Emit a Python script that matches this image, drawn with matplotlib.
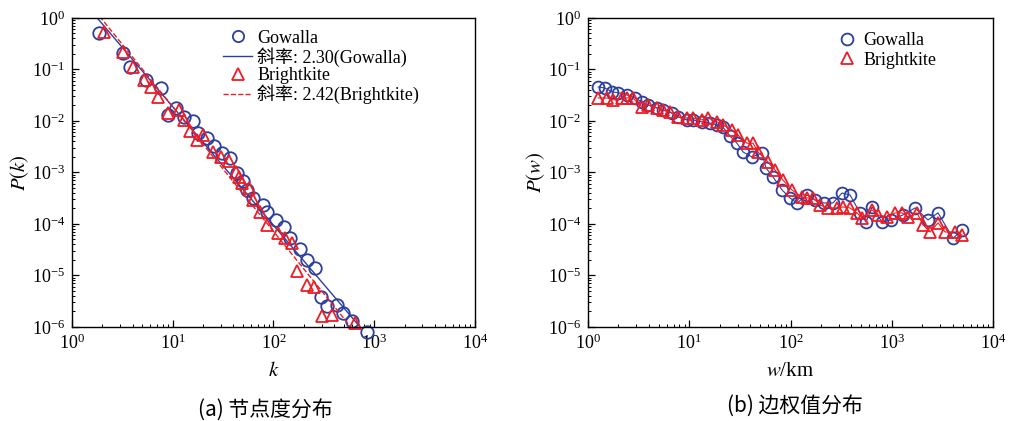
import matplotlib
matplotlib.use("Agg")
import matplotlib.pyplot as plt
from matplotlib.lines import Line2D
import numpy as np

plt.rcParams['font.family'] = ['Liberation Serif', 'Noto Sans CJK SC']
plt.rcParams['mathtext.fontset'] = 'stix'

BLUE = '#2b3f9f'
RED = '#ee1c25'

# (a) degree distribution
k_gow = [1.85, 3.2, 3.8, 5.4, 7.6, 8.9, 10.7, 12.9, 15.8, 18, 22, 25.5, 31, 37,
         43, 50, 55, 63, 78, 87, 105, 126, 147, 185, 217, 260, 293, 340, 430,
         490, 600, 850]
p_gow = [0.51, 0.21, 0.11, 0.063, 0.044, 0.013, 0.018, 0.012, 0.010, 0.0059,
         0.0047, 0.0032, 0.0024, 0.0019, 0.00098, 0.00068, 0.00046, 0.00032,
         0.00023, 0.00017, 1.2e-4, 8.7e-5, 5.4e-5, 3.2e-5, 2.0e-5, 1.4e-5,
         3.8e-6, 2.5e-6, 2.7e-6, 1.9e-6, 1.3e-6, 8e-7]
k_bri = [2.1, 3.2, 4.0, 5.2, 6.1, 7.1, 8.9, 11.5, 12.9, 15, 17.6, 20, 25, 30,
         36, 42, 45, 49, 57, 63, 74, 87, 112, 131, 154, 173, 217, 250, 305,
         384, 650]
p_bri = [0.53, 0.22, 0.11, 0.063, 0.046, 0.029, 0.014, 0.016, 0.0105, 0.0063,
         0.0043, 0.0054, 0.0025, 0.0020, 0.0017, 0.0010, 8.2e-4, 6.3e-4, 5e-4,
         2.9e-4, 1.7e-4, 9.5e-5, 6.7e-5, 5.4e-5, 4.3e-5, 1.2e-5, 6.6e-6, 6.0e-6,
         1.6e-6, 1.7e-6, 1.2e-6]
slope_gow, coef_gow = 2.30, 3.77
slope_bri, coef_bri = 2.42, 4.97

# (b) edge weight distribution
w_gow = [1.26, 1.47, 1.73, 1.98, 2.43, 2.91, 3.41, 3.91, 4.80, 5.51, 6.76, 7.74,
         9.50, 10.9, 13.4, 16.0, 18.8, 21.5, 25.3, 29.6, 34.0, 41.7, 52.3, 57.3,
         67.2, 82.4, 98.9, 116, 146, 175, 214, 263, 323, 387, 486, 557, 639, 802,
         984, 1292, 1698, 2280, 2864, 4030, 4945]
pw_gow = [0.0457, 0.0437, 0.0366, 0.0355, 0.0320, 0.0280, 0.0234, 0.0205,
          0.0179, 0.0164, 0.0143, 0.0120, 0.0105, 0.0105, 0.0096, 0.0091,
          0.0084, 0.0076, 0.0051, 0.0037, 0.0025, 0.0020, 0.0024, 0.00122,
          8.2e-4, 4.6e-4, 3.2e-4, 2.56e-4, 3.66e-4, 2.92e-4, 2.56e-4, 2.56e-4,
          4.0e-4, 3.66e-4, 1.64e-4, 1.09e-4, 2.14e-4, 1.09e-4, 1.2e-4, 1.5e-4,
          2.05e-4, 1.2e-4, 1.64e-4, 5.3e-5, 7.6e-5]
w_bri = [1.26, 1.54, 1.77, 2.17, 2.43, 2.78, 3.41, 3.91, 4.80, 5.51, 6.45, 7.74,
         9.50, 10.9, 13.4, 15.3, 18.8, 21.5, 26.4, 30.3, 37.2, 42.7, 47.8, 60.0,
         70.3, 84.3, 103, 130, 146, 167, 196, 235, 288, 330, 387, 454, 508, 639,
         732, 898, 1077, 1262, 1446, 1775, 2036, 2388, 2864, 3357, 4217, 4945]
pw_bri = [0.0280, 0.0280, 0.0256, 0.0280, 0.0280, 0.0280, 0.0187, 0.0205,
          0.0179, 0.0164, 0.0150, 0.0120, 0.0114, 0.0114, 0.0105, 0.0114,
          0.0096, 0.0084, 0.0067, 0.0053, 0.0037, 0.0037, 0.0025, 0.0016,
          0.00112, 7.1e-4, 4.6e-4, 3.3e-4, 3.2e-4, 3.2e-4, 2.34e-4, 2.05e-4,
          2.05e-4, 2.14e-4, 2.05e-4, 1.64e-4, 1.31e-4, 1.87e-4, 1.5e-4, 1.37e-4,
          1.64e-4, 1.64e-4, 1.37e-4, 1.64e-4, 9.6e-5, 7.0e-5, 1.05e-4, 7.0e-5,
          7.0e-5, 6.1e-5]


def style_axis(ax, xlabel, ylabel):
    ax.set_xscale('log')
    ax.set_yscale('log')
    ax.set_xlim(1, 1e4)
    ax.set_ylim(1e-6, 1)
    ax.tick_params(which='both', direction='in', top=False, right=False,
                   labelsize=13, pad=5)
    ax.tick_params(which='major', length=5, width=0.9)
    ax.tick_params(which='minor', length=2.5, width=0.7)
    ax.set_xlabel(xlabel, fontsize=15, labelpad=6)
    ax.set_ylabel(ylabel, fontsize=15)
    ax.yaxis.set_label_coords(-0.102, 0.5)
    for s in ax.spines.values():
        s.set_linewidth(1.0)


fig = plt.figure(figsize=(10.11, 4.21), dpi=100)
ax1 = fig.add_axes([0.0712, 0.2233, 0.3986, 0.734])
ax2 = fig.add_axes([0.5816, 0.2233, 0.4006, 0.734])

# left panel
kk = np.logspace(0, 4, 200)
ax1.plot(k_gow, p_gow, 'o', ms=9, mfc='none', mec=BLUE, mew=1.3,
         clip_on=False, label='Gowalla')
ax1.plot(kk, coef_gow * kk ** -slope_gow, '-', color=BLUE, lw=1.0,
         label='斜率: 2.30(Gowalla)')
ax1.plot(k_bri, p_bri, '^', ms=9, mfc='none', mec=RED, mew=1.3,
         clip_on=False, label='Brightkite')
ax1.plot(kk, coef_bri * kk ** -slope_bri, '--', color=RED, lw=1.0,
         label='斜率: 2.42(Brightkite)')
style_axis(ax1, r'$k$', r'$P(k)$')
ax1.legend(loc='upper left', bbox_to_anchor=(0.375, 0.962), frameon=False,
           fontsize=13, handlelength=1.6, handletextpad=0.3, labelspacing=0.02,
           borderpad=0, borderaxespad=0, markerscale=0.9)

# right panel
ax2.plot(w_gow, pw_gow, '-o', color=BLUE, lw=0.8, ms=8.5, mfc='none',
         mec=BLUE, mew=1.3)
ax2.plot(w_bri, pw_bri, '-^', color=RED, lw=0.8, ms=8.5, mfc='none',
         mec=RED, mew=1.3)
style_axis(ax2, r'$w$/km', r'$P(w)$')
handles = [Line2D([], [], ls='none', marker='o', ms=8.5, mfc='none', mec=BLUE, mew=1.3),
           Line2D([], [], ls='none', marker='^', ms=8.5, mfc='none', mec=RED, mew=1.3)]
ax2.legend(handles, ['Gowalla', 'Brightkite'], loc='upper left',
           bbox_to_anchor=(0.617, 0.955), frameon=False, fontsize=13,
           handlelength=1.0, handletextpad=0.4, labelspacing=0.15,
           borderpad=0, borderaxespad=0)

fig.text(265 / 1011, 1 - 410 / 421, '(a) 节点度分布', ha='center', va='center',
         fontsize=15, family=['Noto Sans CJK SC', 'DejaVu Sans'])
fig.text(795 / 1011, 1 - 406 / 421, '(b) 边权值分布', ha='center', va='center',
         fontsize=15, family=['Noto Sans CJK SC', 'DejaVu Sans'])

fig.savefig('out.png', dpi=100)
